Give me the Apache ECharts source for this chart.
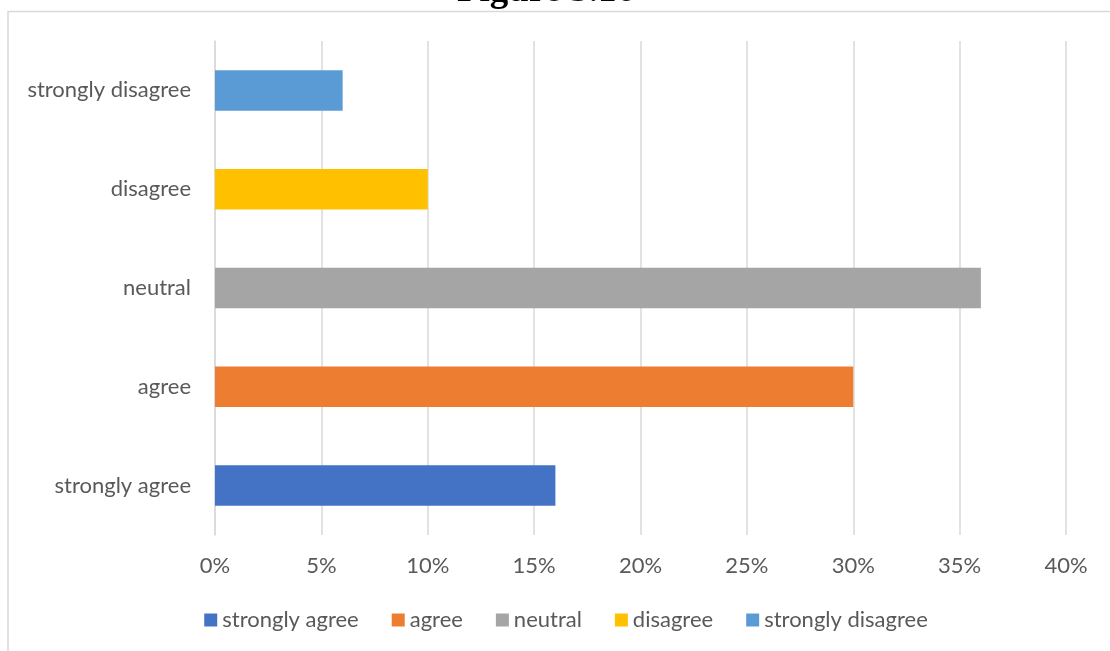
<!DOCTYPE html>
<html>
<head>
<meta charset="utf-8">
<script src="https://cdn.jsdelivr.net/npm/echarts@6/dist/echarts.min.js"></script>
<style>
  html, body { margin: 0; padding: 0; background: #fff; overflow: hidden; }
  #chart { width: 1132px; height: 651px; }
</style>
</head>
<body>
<div id="chart"></div>
<script>
// Survey responses, share of respondents (%)
const categories = ['strongly agree', 'agree', 'neutral', 'disagree', 'strongly disagree'];
const shares = [16, 30, 36, 10, 6];
const colors = ['#4472C4', '#ED7D31', '#A5A5A5', '#FFC000', '#5B9BD5'];
const tickMax = 40;
const tickStep = 5;
const figureTitle = 'Figure 5.16';

const textColor = '#595959';
const gridColor = '#D9D9D9';
const labelFont = 'Lato, "Open Sans", sans-serif';
const labelSize = 22;

// One series per answer so each gets its own legend entry; stacking keeps
// every bar centred in its own category band.
const series = categories.map((name, i) => ({
  name: name,
  type: 'bar',
  stack: 'answers',
  barWidth: '41%',
  itemStyle: { color: colors[i] },
  data: categories.map((_, j) => (j === i ? shares[i] : '-'))
}));

const chart = echarts.init(document.getElementById('chart'), null, { renderer: 'canvas' });
chart.setOption({
  animation: false,
  backgroundColor: '#ffffff',
  graphic: [
    {
      type: 'rect',
      shape: { x: 8, y: 11.5, width: 1116, height: 700 },
      style: { fill: null, stroke: gridColor, lineWidth: 1.5 },
      silent: true,
      z: -10
    },
    {
      type: 'text',
      x: 546,
      y: -8.5,
      style: {
        text: figureTitle,
        font: 'bold 37px "Liberation Serif", serif',
        fill: '#000000',
        align: 'center',
        verticalAlign: 'middle'
      },
      silent: true
    }
  ],
  grid: { left: 215, right: 66, top: 41, bottom: 116, containLabel: false },
  xAxis: {
    type: 'value',
    min: 0,
    max: tickMax,
    interval: tickStep,
    axisLine: { show: false },
    axisTick: { show: false },
    splitLine: { show: true, lineStyle: { color: gridColor, width: 1.5 } },
    axisLabel: {
      formatter: '{value}%',
      color: textColor,
      fontFamily: labelFont,
      fontSize: labelSize,
      margin: 20
    }
  },
  yAxis: {
    type: 'category',
    data: categories,
    axisLine: { show: true, lineStyle: { color: gridColor, width: 1.5 } },
    axisTick: { show: false },
    splitLine: { show: false },
    axisLabel: {
      color: textColor,
      fontFamily: labelFont,
      fontSize: labelSize,
      margin: 24
    }
  },
  legend: {
    data: categories,
    left: 'center',
    top: 604,
    icon: 'rect',
    itemWidth: 13,
    itemHeight: 13,
    itemGap: 33,
    textStyle: {
      color: textColor,
      fontFamily: labelFont,
      fontSize: labelSize
    }
  },
  series: series
});
</script>
</body>
</html>
